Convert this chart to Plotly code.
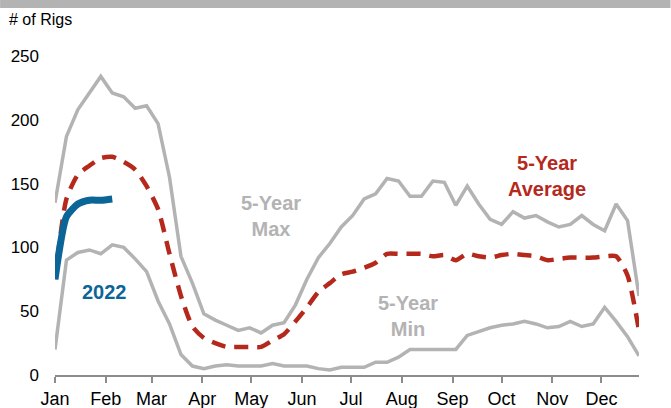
import plotly.graph_objects as go
import pandas as pd

# weekly series, week 1 .. week 52
weeks = pd.date_range("2022-01-01", periods=52, freq="7D")

max_5yr = [135, 187, 208, 221, 234, 221, 218, 209, 211, 197,
           155, 93, 72, 48, 43, 39, 35, 37, 33, 39,
           41, 55, 75, 92, 103, 116, 125, 138, 142, 154,
           152, 140, 140, 152, 151, 133, 148, 134, 122, 118,
           128, 123, 125, 120, 116, 118, 125, 118, 113, 134,
           121, 62]

min_5yr = [20, 90, 96, 98, 95, 102, 100, 91, 81, 58,
           40, 16, 7, 5, 7, 8, 7, 7, 7, 9,
           7, 7, 7, 5, 4, 6, 6, 6, 10, 10,
           14, 20, 20, 20, 20, 20, 31, 34, 37, 39,
           40, 42, 40, 37, 38, 42, 38, 40, 53, 42,
           30, 15]

avg_5yr = [75, 138, 157, 164, 170, 171, 167, 161, 148, 130,
           95, 62, 38, 29, 25, 22, 22, 22, 22, 27,
           32, 42, 53, 65, 72, 79, 81, 84, 88, 95,
           95, 95, 95, 93, 94, 90, 95, 93, 92, 94,
           95, 94, 93, 90, 91, 92, 92, 92, 93, 93,
           78, 35]

rigs_2022 = [75, 124, 134, 137, 137, 138]

GRAY = "#b3b3b3"
RED = "#b5291c"
BLUE = "#0b6597"
FONT = "Liberation Sans, Arial, sans-serif"

fig = go.Figure()

fig.add_trace(go.Scatter(x=weeks, y=max_5yr, mode="lines",
                         line=dict(color=GRAY, width=3.5), showlegend=False))
fig.add_trace(go.Scatter(x=weeks, y=min_5yr, mode="lines",
                         line=dict(color=GRAY, width=3.5), showlegend=False))
fig.add_trace(go.Scatter(x=weeks, y=avg_5yr, mode="lines",
                         line=dict(color=RED, width=4.5, dash="14px,9px",
                                   shape="spline", smoothing=0.6),
                         showlegend=False))
fig.add_trace(go.Scatter(x=weeks[:len(rigs_2022)], y=rigs_2022, mode="lines",
                         line=dict(color=BLUE, width=7, shape="spline", smoothing=0.6),
                         showlegend=False))

# series labels
labels = [
    ("2022", "2022-01-31", 65, BLUE),
    ("5-Year<br>Max", "2022-05-13", 125, GRAY),
    ("5-Year<br>Min", "2022-08-05", 46, GRAY),
    ("5-Year<br>Average", "2022-10-29", 156, RED),
]
for text, x, y, color in labels:
    fig.add_annotation(x=x, y=y, xref="x", yref="y", text=f"<b>{text}</b>",
                       showarrow=False, font=dict(size=20, color=color, family=FONT))

fig.add_annotation(x=-0.082, y=1.113, xref="paper", yref="paper",
                   xanchor="left", yanchor="middle", text="# of Rigs",
                   showarrow=False, font=dict(size=16, color="#000", family=FONT))

# grey band along the top edge of the image
fig.add_shape(type="rect", xref="paper", yref="paper",
              x0=-0.094, x1=1.054, y0=1.1505, y1=1.1755, line_width=0,
              fillcolor=GRAY, layer="above")

fig.update_layout(
    width=671, height=408,
    margin=dict(l=55, r=32, t=56, b=33),
    paper_bgcolor="white", plot_bgcolor="white",
    font=dict(family=FONT, size=17, color="#000"),
    xaxis=dict(range=["2022-01-01", "2022-12-24"], dtick="M1", tickformat="%b",
               tick0="2022-01-01", showgrid=False, zeroline=False, automargin=False,
               showline=True, linecolor="#8c8c8c", linewidth=2,
               ticks="outside", ticklen=6, tickcolor="#8c8c8c", tickwidth=1.5,
               tickfont=dict(size=18), ticklabelstandoff=0),
    yaxis=dict(range=[0, 250], dtick=50, showgrid=False, zeroline=False,
               automargin=False, showline=False, ticks="", ticklabelstandoff=15),
)

# page has a default 8px body margin; drop it so the figure sits at the corner
fig.write_html("out.html", config={"displayModeBar": False},
               post_script="document.body.style.margin='0';")
